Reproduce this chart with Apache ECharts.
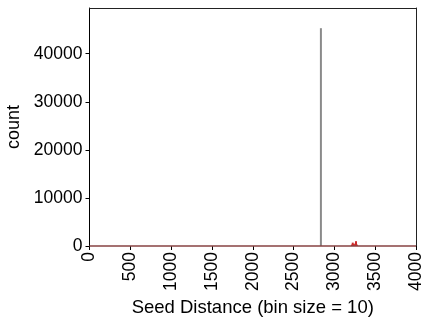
<!DOCTYPE html>
<html>
<head>
<meta charset="utf-8">
<script src="https://cdn.jsdelivr.net/npm/echarts@6/dist/echarts.min.js"></script>
<style>
  html, body { margin: 0; padding: 0; background: #fff; }
  #chart { width: 421px; height: 320px; }
</style>
</head>
<body>
<div id="chart"></div>
<script>
// Histogram of seed distances, bin size 10
const spikeBins = [2835];
const spikeCounts = [45300];
const redBins = [3215, 3225, 3235, 3255, 3265, 3275];
const redCounts = [300, 700, 400, 500, 1000, 300];
const xTicks = [0, 500, 1000, 1500, 2000, 2500, 3000, 3500, 4000];
const yTicks = [0, 10000, 20000, 30000, 40000];

const font = 'Liberation Sans, Arial, sans-serif';
const plain = v => String(v);
const chart = echarts.init(document.getElementById('chart'), null, { renderer: 'canvas' });

chart.setOption({
  animation: false,
  grid: { left: 89.5, right: 5, top: 8, bottom: 74, containLabel: false, outerBoundsMode: 'none' },
  xAxis: [{
    type: 'value', min: 0, max: 4000, interval: 500,
    name: 'Seed Distance (bin size = 10)', nameLocation: 'middle', nameGap: 46,
    nameTextStyle: { fontFamily: font, fontSize: 18.5, color: '#000' },
    axisLine: { show: false },
    axisTick: { show: true, length: 4, customValues: xTicks, lineStyle: { color: '#000' } },
    axisLabel: { rotate: 90, fontFamily: font, fontSize: 17.5, color: '#000', margin: 6,
      customValues: xTicks, formatter: plain },
    splitLine: { show: false }
  }, {
    type: 'value', min: 0, max: 4000, position: 'top',
    axisLine: { show: true, onZero: false, lineStyle: { color: '#222', width: 1 } },
    axisTick: { show: false }, axisLabel: { show: false }, splitLine: { show: false }
  }],
  yAxis: [{
    type: 'value', min: 0, max: 49500, interval: 10000,
    name: 'count', nameLocation: 'middle', nameGap: 58, nameRotate: 90,
    nameTextStyle: { fontFamily: font, fontSize: 18, color: '#000' },
    axisLine: { show: true, onZero: false, lineStyle: { color: '#000', width: 1 } },
    axisTick: { show: true, length: 4, customValues: yTicks, lineStyle: { color: '#000' } },
    axisLabel: { fontFamily: font, fontSize: 17.5, color: '#000', margin: 7,
      customValues: yTicks, formatter: plain },
    splitLine: { show: false }
  }, {
    type: 'value', min: 0, max: 49500, position: 'right',
    axisLine: { show: true, onZero: false, lineStyle: { color: '#222', width: 1 } },
    axisTick: { show: false }, axisLabel: { show: false }, splitLine: { show: false }
  }],
  series: [{
    type: 'bar',
    data: spikeBins.map((b, i) => [b, spikeCounts[i]]),
    barWidth: 2, barGap: '-100%',
    itemStyle: { color: '#8a8a8a' }
  }, {
    type: 'bar',
    data: redBins.map((b, i) => [b, redCounts[i]]),
    barWidth: 2, barGap: '-100%',
    itemStyle: { color: '#cc2a2a' },
    markLine: {
      silent: true, symbol: 'none', label: { show: false },
      lineStyle: { color: '#874242', width: 1.5, type: 'solid' },
      data: [{ yAxis: 0 }]
    }
  }]
});
</script>
</body>
</html>
